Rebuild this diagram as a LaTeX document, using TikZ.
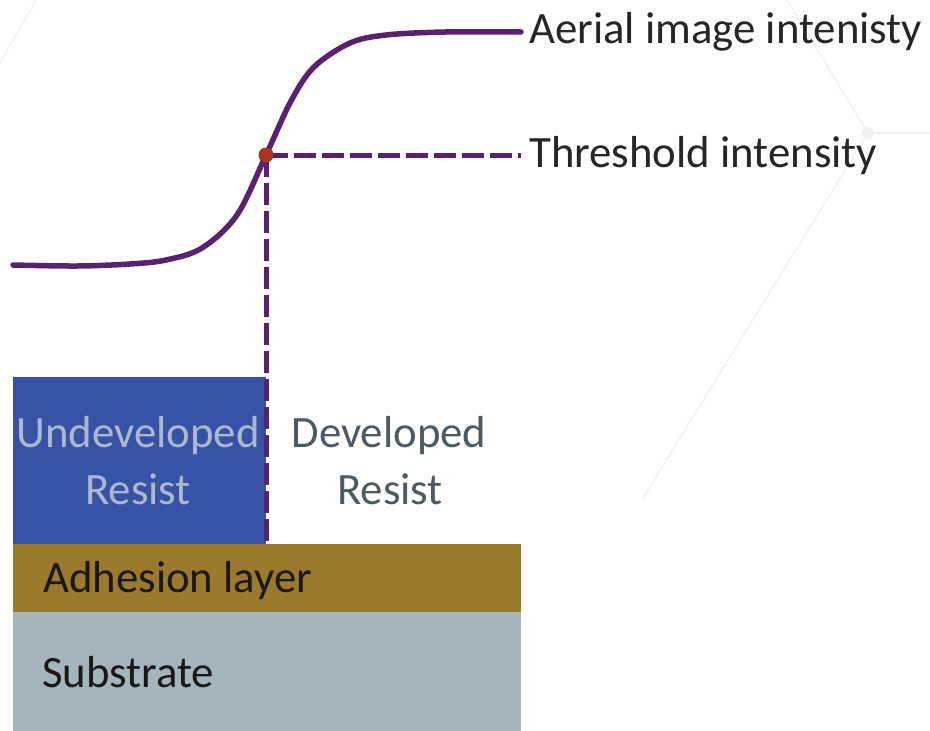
\documentclass[tikz,border=0pt]{standalone}
\usepackage{fontspec}
\setmainfont{Carlito}
\definecolor{curvec}{HTML}{5A2170}
\definecolor{dotc}{HTML}{A3361B}
\definecolor{resistc}{HTML}{3653A6}
\definecolor{adhc}{HTML}{9B7A2D}
\definecolor{subc}{HTML}{A3B4BD}
\definecolor{undevtxt}{HTML}{AAB9CE}
\definecolor{devtxt}{HTML}{4A5B66}
\definecolor{labtxt}{HTML}{262626}
\definecolor{bgline}{HTML}{F0F0F0}
\begin{document}
\begin{tikzpicture}[x=1pt,y=-1pt,
  layer/.style={draw=none,inner sep=0pt,outer sep=0pt,anchor=north west},
  lbl/.style={inner sep=0pt,anchor=base west,text=labtxt,font=\fontsize{44.8}{52}\selectfont},
  undev/.style={inner sep=0pt,anchor=base,text=undevtxt,font=\fontsize{44.8}{52}\selectfont},
  dev/.style={inner sep=0pt,anchor=base,text=devtxt,font=\fontsize{44.8}{52}\selectfont},
  layertxt/.style={inner sep=0pt,anchor=base west,text=black!90,font=\fontsize{44.8}{52}\selectfont},
  curveline/.style={draw=curvec,line width=5.5pt,line cap=round},
  thrline/.style={draw=curvec,line width=5pt,dash pattern=on 22pt off 6pt},
  bgstroke/.style={draw=bgline,line width=1.2pt}]
\useasboundingbox (0,0) rectangle (930,731);
\fill[white] (0,0) rectangle (930,731);
% faint background lines
\coordinate (bgA) at (787,0);
\coordinate (bgB) at (868,133);
\coordinate (bgC) at (643,498);
\coordinate (bgD) at (930,133);
\coordinate (bgE) at (36,0);
\coordinate (bgF) at (0,63);
\draw[bgstroke] (bgA) -- (bgB) -- (bgC);
\draw[bgstroke] (bgB) -- (bgD);
\draw[bgstroke] (bgE) -- (bgF);
\node[circle,fill=bgline,minimum size=12pt,inner sep=0pt] (bgdot) at (bgB) {};
% layers
\node[layer,fill=resistc,minimum width=253pt,minimum height=168pt] (undevbox) at (13,377) {};
\node[layer,fill=adhc,minimum width=508pt,minimum height=68pt] (adhesion) at (13,544) {};
\node[layer,fill=subc,minimum width=508pt,minimum height=120pt] (substrate) at (13,612) {};
% layer texts
\node[undev] (undevA) at (138,447) {Undeveloped};
\node[undev] (undevB) at (138,504) {Resist};
\node[dev] (devA) at (389,447) {Developed};
\node[dev] (devB) at (390,504) {Resist};
\node[layertxt] (adhtxt) at (43,592) {Adhesion layer};
\node[layertxt] (subtxt) at (42,687) {Substrate};
% labels
\node[lbl] (aerial) at (529,43) {Aerial image intenisty};
\node[lbl] (thrlab) at (529,167) {Threshold intensity};
% threshold point
\coordinate (thrpt) at (266,155);
\draw[thrline] (thrpt) -- (thrpt |- adhesion.north);
\draw[thrline] (thrpt) -- ([xshift=-8pt]thrlab.west |- thrpt);
\draw[curveline] plot[smooth,tension=0.55] coordinates {(13,265) (77,266) (130,264) (166,260) (202,248) (237,215) (266,155) (291,101) (314,67) (350,43) (386,35) (445,32) (521,32)};
\node[circle,fill=dotc,minimum size=15pt,inner sep=0pt] (thr) at (thrpt) {};
\end{tikzpicture}
\end{document}
